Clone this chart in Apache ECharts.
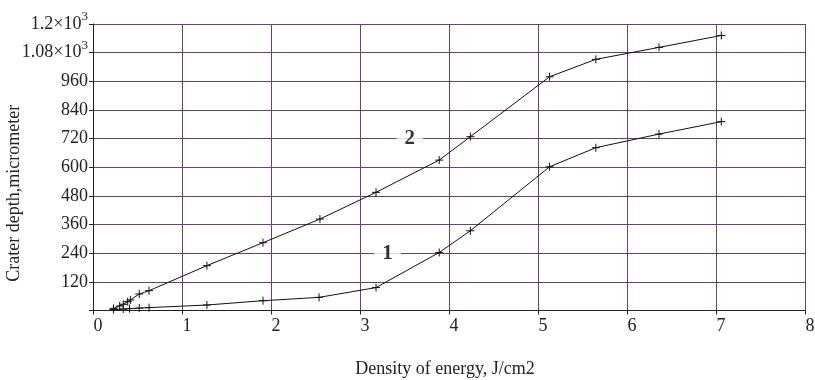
<!DOCTYPE html>
<html><head><meta charset="utf-8">
<script src="https://cdn.jsdelivr.net/npm/echarts@6/dist/echarts.min.js"></script>
<style>html,body{margin:0;padding:0;background:#fff}#c{width:815px;height:380px}</style>
</head><body><div id="c"></div>
<script>
// Curve 1 (lower)
const energy1 = [0.23, 0.34, 0.41, 0.52, 0.63, 1.28, 1.91, 2.54, 3.18, 3.89, 4.24, 5.13, 5.65, 6.36, 7.06];
const depth1  = [4, 6, 8, 10, 12, 23, 41, 55, 96, 243, 334, 602, 682, 739, 791];
// Curve 2 (upper)
const energy2 = [0.23, 0.30, 0.34, 0.39, 0.42, 0.52, 0.63, 1.28, 1.91, 2.55, 3.18, 3.89, 4.24, 5.13, 5.65, 6.36, 7.06];
const depth2  = [9, 19, 26, 37, 44, 69, 83, 188, 284, 383, 495, 630, 728, 979, 1052, 1102, 1152];
// Axis ticks
const xTicks = [0, 1, 2, 3, 4, 5, 6, 7, 8];
const yTicks = [0, 120, 240, 360, 480, 600, 720, 840, 960, 1080, 1200];
const yTickLabels = ['', '120', '240', '360', '480', '600', '720', '840', '960', '1.08×10^3', '1.2×10^3'];
// Curve annotations
const curveNames = ['1', '2'];
const curveNameX = [3.31, 3.56];
const curveNameY = [240, 720];

const serif = '"Liberation Serif","DejaVu Serif",serif';
const gridColor = '#6a416a';
const plus = 'path://M5,0 L5,10 M0,5 L10,5';

function pairs(xs, ys) { return xs.map((x, i) => [x, ys[i]]); }

const chart = echarts.init(document.getElementById('c'));
chart.setOption({
  backgroundColor: '#fff',
  animation: false,
  grid: { left: 93, right: 10, top: 24, bottom: 69.5, containLabel: false, outerBoundsMode: 'none' },
  xAxis: {
    type: 'value', min: xTicks[0], max: xTicks[xTicks.length - 1], interval: 1,
    name: 'Density of energy, J/cm2', nameLocation: 'middle', nameGap: 50, nameMoveOverlap: false,
    nameTextStyle: { fontFamily: serif, fontSize: 18, color: '#222', padding: [0, 8, 0, 0] },
    axisLine: { lineStyle: { color: '#222', width: 1 } },
    axisTick: { show: true, length: 4, lineStyle: { color: '#222' } },
    axisLabel: { fontFamily: serif, fontSize: 18, color: '#222', margin: 7, padding: [0, 0, 0, 10] },
    splitLine: { show: true, lineStyle: { color: gridColor, width: 1 } }
  },
  yAxis: {
    type: 'value', min: yTicks[0], max: yTicks[yTicks.length - 1], interval: 120,
    name: 'Crater depth,micrometer', nameLocation: 'middle', nameGap: 70, nameMoveOverlap: false,
    nameTextStyle: { fontFamily: serif, fontSize: 18, color: '#222', padding: [0, 52, 0, 0] },
    axisLine: { show: true, lineStyle: { color: '#222', width: 1 } },
    axisTick: { show: true, length: 4, lineStyle: { color: '#222' } },
    axisLabel: {
      margin: 5,
      formatter: function (v) {
        const i = yTicks.indexOf(v);
        const s = i >= 0 ? yTickLabels[i] : '';
        if (s.indexOf('^') >= 0) {
          const p = s.split('^');
          return '{m|' + p[0] + '}{s|' + p[1] + '}';
        }
        return '{m|' + s + '}';
      },
      rich: {
        m: { fontFamily: serif, fontSize: 18, color: '#222' },
        s: { fontFamily: serif, fontSize: 13, color: '#222', padding: [0, 0, 14, 0] }
      }
    },
    splitLine: { show: true, lineStyle: { color: gridColor, width: 1 } }
  },
  series: [
    {
      type: 'line', data: pairs(energy1, depth1), symbol: plus, symbolSize: 8,
      lineStyle: { color: '#111', width: 1 },
      itemStyle: { color: 'none', borderColor: '#111', borderWidth: 1 }, z: 3
    },
    {
      type: 'line', data: pairs(energy2, depth2), symbol: plus, symbolSize: 8,
      lineStyle: { color: '#111', width: 1 },
      itemStyle: { color: 'none', borderColor: '#111', borderWidth: 1 }, z: 3
    },
    {
      type: 'scatter', symbolSize: 0, z: 4, silent: true,
      data: curveNames.map((n, i) => ({ value: [curveNameX[i], curveNameY[i]], name: n })),
      label: {
        show: true, position: 'inside', formatter: '{b}',
        fontFamily: serif, fontWeight: 'bold', fontSize: 21, color: '#000',
        backgroundColor: '#fff', padding: [2, 8, 0, 8]
      }
    }
  ]
});
</script></body></html>
